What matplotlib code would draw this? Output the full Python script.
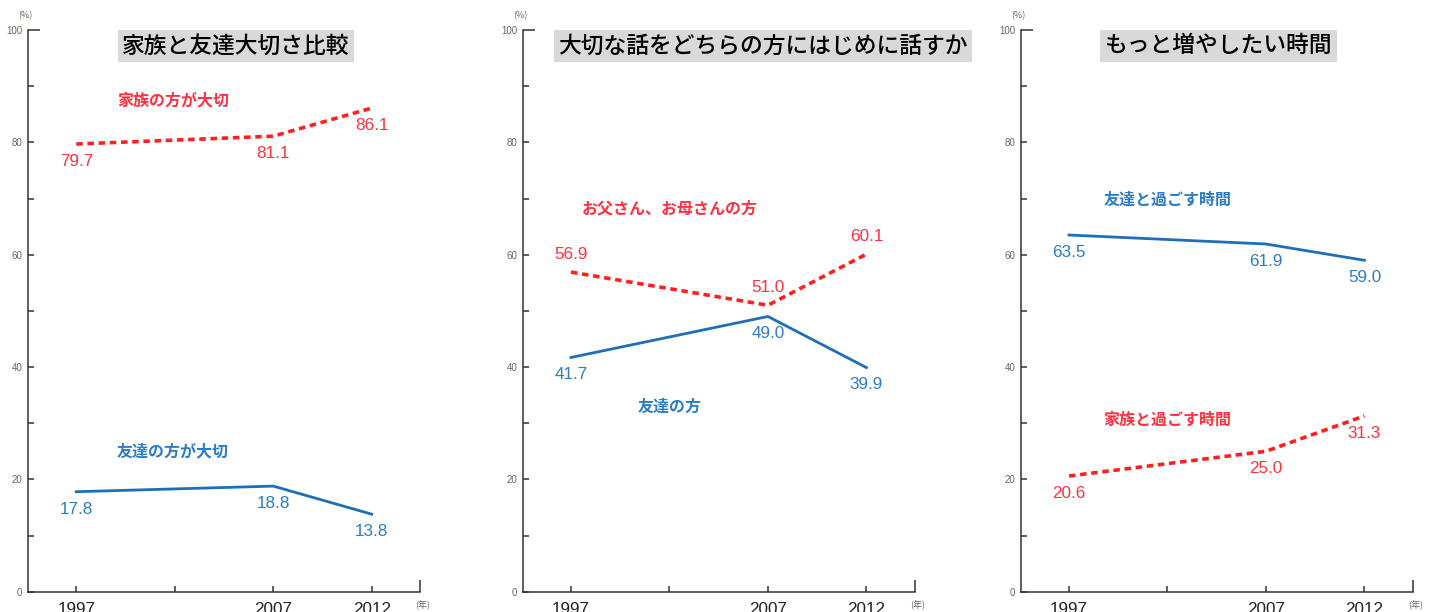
import matplotlib.pyplot as plt

# data
years = [1997, 2007, 2012]
year_ticks = [1997, 2002, 2007, 2012]
year_labels = ['1997', '', '2007', '2012']

titles = ['家族と友達大切さ比較', '大切な話をどちらの方にはじめに話すか', 'もっと増やしたい時間']

red_names = ['家族の方が大切', 'お父さん、お母さんの方', '家族と過ごす時間']
blue_names = ['友達の方が大切', '友達の方', '友達と過ごす時間']

red_values = [
    [79.7, 81.1, 86.1],
    [56.9, 51.0, 60.1],
    [20.6, 25.0, 31.3],
]
blue_values = [
    [17.8, 18.8, 13.8],
    [41.7, 49.0, 39.9],
    [63.5, 61.9, 59.0],
]

RED_LINE = '#ff1f1f'
RED_TEXT = '#ff3040'
BLUE_LINE = '#1f6fb5'
BLUE_TEXT = '#2b7cc4'
JP = ['Noto Sans CJK JP', 'DejaVu Sans']
NUM = ['Liberation Sans', 'DejaVu Sans']

W, H = 1434, 612
fig = plt.figure(figsize=(W / 100, H / 100), dpi=100)

# axes left edges in pixels, and layout for titles / series names (data coords)
lefts = [28, 522.7, 1020.7]
title_x = [2005.1, 2006.75, 2004.6]
red_name_pos = [(2001.9, 87.4), (2002.0, 68.3), (2002.0, 30.7)]
blue_name_pos = [(2001.9, 25.0), (2002.0, 32.9), (2002.0, 69.8)]
red_above = [False, True, False]

XMIN, XMAX = 1994.55, 2014.45

for i in range(3):
    ax = fig.add_axes([lefts[i] / W, 20.3 / H, 392 / W, 561.7 / H])
    ax.set_xlim(XMIN, XMAX)
    ax.set_ylim(0, 100)
    for s in ['top', 'right']:
        ax.spines[s].set_visible(False)
    for s in ['left', 'bottom']:
        ax.spines[s].set_color('#333333')
        ax.spines[s].set_linewidth(1.1)

    ax.set_xticks(year_ticks)
    ax.set_xticklabels(year_labels, family=NUM, fontsize=12.3, color='#222222')
    ax.set_xticks([XMAX], minor=True)
    ax.set_yticks(range(0, 100, 10))
    ax.set_yticklabels([str(v) if v % 20 == 0 else '' for v in range(0, 100, 10)],
                       family=NUM, fontsize=7, color='#6e6259')
    ax.set_yticks([100], minor=True)
    ax.set_yticklabels(['100'], minor=True, family=NUM, fontsize=7, color='#6e6259')
    ax.tick_params(axis='both', which='major', direction='in', length=4.3,
                   width=1.1, color='#333333')
    ax.tick_params(axis='both', which='minor', direction='in', length=8.6,
                   width=1.1, color='#333333')
    ax.tick_params(axis='x', which='both', pad=7.5)
    ax.tick_params(axis='y', which='both', pad=4)

    ax.annotate('(%)', xy=(0, 1), xycoords='axes fraction', xytext=(-2, 10),
                textcoords='offset points', ha='center', va='center',
                fontsize=6.5, color='#6e6259', family=JP)
    ax.annotate('(年)', xy=(1, 0), xycoords='axes fraction', xytext=(2, -10),
                textcoords='offset points', ha='center', va='center',
                fontsize=6.5, color='#6e6259', family=JP)

    ax.plot(years, red_values[i], color=RED_LINE, lw=2.6,
            linestyle=(0, (1.8, 1.3)), dash_capstyle='butt')
    ax.plot(years, blue_values[i], color=BLUE_LINE, lw=2.0)

    for x, v in zip(years, red_values[i]):
        dy = 12.5 if red_above[i] else -12.5
        ax.annotate(f'{v:.1f}', xy=(x, v), xytext=(0, dy), textcoords='offset points',
                    ha='center', va='center', fontsize=12.3, color=RED_TEXT, family=NUM)
    for x, v in zip(years, blue_values[i]):
        ax.annotate(f'{v:.1f}', xy=(x, v), xytext=(0, -12.5), textcoords='offset points',
                    ha='center', va='center', fontsize=12.3, color=BLUE_TEXT, family=NUM)

    ax.text(*red_name_pos[i], red_names[i], ha='center', va='center', fontsize=11.5,
            fontweight='bold', color=RED_TEXT, family=JP)
    ax.text(*blue_name_pos[i], blue_names[i], ha='center', va='center', fontsize=11.5,
            fontweight='bold', color=BLUE_TEXT, family=JP)

    ax.text(title_x[i], 97.2, titles[i], ha='center', va='center', fontsize=16.4,
            color='black', family=JP, fontweight='medium', clip_on=False,
            bbox=dict(boxstyle='square,pad=0.2', facecolor='#d9d9d9', edgecolor='none'))

fig.savefig('out.png', dpi=100)
